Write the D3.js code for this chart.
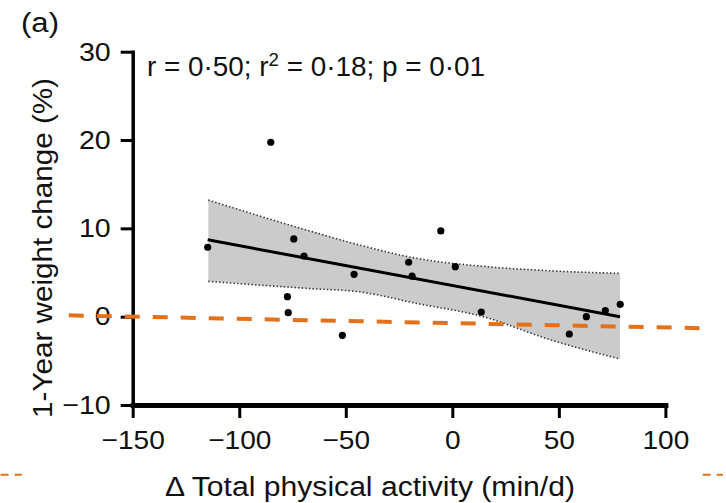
<!DOCTYPE html>
<html>
<head>
<meta charset="utf-8">
<script src="https://cdn.jsdelivr.net/npm/d3@7"></script>
<style>
  body { margin: 0; background: #fff; }
  text { font-family: "Liberation Sans", Arial, sans-serif; fill: #111; }
</style>
</head>
<body>
<svg id="chart" width="726" height="503"></svg>
<script>
// scatter points (delta activity min/d, weight change %)
var pointX = [-114.8, -85.2, -74.4, -69.6, -77.4, -77.0, -46.1, -51.6, -20.5, -18.9, -5.4, 1.4, 13.6, 54.9, 62.9, 71.8, 78.8];
var pointY = [7.86, 19.75, 8.8, 6.87, 2.26, 0.45, 4.80, -2.11, 6.16, 4.58, 9.71, 5.66, 0.53, -1.96, 0.0, 0.68, 1.40];

// regression line end points
var fitX = [-114.8, 78.7];
var fitY = [8.7, 0.0];

// 95% confidence band
var bandX = [-114.5, -68.3, -43.3, -16.7, 14.5, 45.8, 78.7];
var bandUpper = [13.2, 9.8, 8.1, 6.6, 5.7, 5.2, 4.9];
var bandLower = [4.0, 3.2, 2.8, 1.5, 0.0, -2.6, -4.8];

// orange dashed reference line
var refX = [-180, 116];
var refY = [0.15, -1.3];
// short orange dashes along the bottom edge (y in data units)
var edgeDashX = [[-212, -202], [117.5, 127]];
var edgeDashY = -17.9;

var xTicks = [-150, -100, -50, 0, 50, 100];
var yTicks = [-10, 0, 10, 20, 30];

var svg = d3.select("#chart");

var x = d3.scaleLinear().domain([-150, 100]).range([132.7, 665.4]);
var y = d3.scaleLinear().domain([-10, 30]).range([405, 51.7]);

//confidence band
var bandData = bandX.map(function (d, i) { return { x: d, lo: bandLower[i], hi: bandUpper[i] }; });
svg.append("path")
    .datum(bandData)
    .attr("d", d3.area().x(d => x(d.x)).y0(d => y(d.lo)).y1(d => y(d.hi)).curve(d3.curveMonotoneX))
    .attr("fill", "#cbcbcb");
["hi", "lo"].forEach(function (k) {
    svg.append("path")
        .datum(bandData)
        .attr("d", d3.line().x(d => x(d.x)).y(d => y(d[k])).curve(d3.curveMonotoneX))
        .attr("fill", "none")
        .attr("stroke", "#333")
        .attr("stroke-width", 1.6)
        .attr("stroke-dasharray", "1.4,2.2");
});

//regression line
svg.append("path")
    .datum(fitX.map((d, i) => [d, fitY[i]]))
    .attr("d", d3.line().x(d => x(d[0])).y(d => y(d[1])))
    .attr("stroke", "#000")
    .attr("stroke-width", 3);

//points
svg.selectAll(".pt")
    .data(pointX.map((d, i) => [d, pointY[i]]))
    .enter()
    .append("circle")
    .attr("class", "pt")
    .attr("cx", d => x(d[0]))
    .attr("cy", d => y(d[1]))
    .attr("r", 3.6)
    .attr("fill", "#000");

//axes
var yAxis = svg.append("g")
    .attr("transform", "translate(" + x(-150) + ",0)")
    .call(d3.axisLeft(y).tickValues(yTicks).tickSize(12).tickSizeOuter(0).tickPadding(10));
var xAxis = svg.append("g")
    .attr("transform", "translate(0," + y(-10) + ")")
    .call(d3.axisBottom(x).tickValues(xTicks).tickSize(13).tickSizeOuter(0).tickPadding(13));

[yAxis, xAxis].forEach(function (g) {
    g.select(".domain").attr("stroke", "#000").attr("stroke-linecap", "square");
    g.selectAll(".tick line").attr("stroke", "#000").attr("stroke-width", 3);
    g.selectAll(".tick text").attr("font-size", 26).attr("fill", "#111")
        .style("font-family", "'Liberation Sans', Arial, sans-serif");
});
yAxis.select(".domain").attr("stroke-width", 3.5);
xAxis.select(".domain").attr("stroke-width", 5);
// the original lettering is a little wider than Arial
xAxis.selectAll(".tick text").attr("transform", "scale(1.08,1)");
yAxis.selectAll(".tick text").attr("x", -22 / 1.1).attr("transform", "scale(1.1,1)");

//orange reference line
svg.append("line")
    .attr("x1", x(refX[0])).attr("y1", y(refY[0]))
    .attr("x2", x(refX[1])).attr("y2", y(refY[1]))
    .attr("stroke", "#e4711a")
    .attr("stroke-width", 4)
    .attr("stroke-dasharray", "15,13");

edgeDashX.forEach(function (seg) {
    svg.append("line")
        .attr("x1", x(seg[0])).attr("y1", y(edgeDashY))
        .attr("x2", x(seg[1])).attr("y2", y(edgeDashY))
        .attr("stroke", "#e4711a")
        .attr("stroke-width", 2)
        .attr("stroke-dasharray", "8,6");
});

//labels
svg.append("text").attr("x", 21).attr("y", 32).attr("font-size", 27)
    .attr("textLength", 38).attr("lengthAdjust", "spacingAndGlyphs").text("(a)");

var ann = svg.append("text").attr("x", 147).attr("y", 76).attr("font-size", 27)
    .attr("textLength", 338).attr("lengthAdjust", "spacingAndGlyphs");
ann.append("tspan").text("r = 0\u00b750; r");
ann.append("tspan").attr("font-size", 18).attr("dy", -10).text("2");
ann.append("tspan").attr("dy", 10).text(" = 0\u00b718; p = 0\u00b701");

svg.append("text")
    .attr("x", 370).attr("y", 496)
    .attr("text-anchor", "middle")
    .attr("font-size", 27)
    .attr("textLength", 410).attr("lengthAdjust", "spacingAndGlyphs")
    .text("\u0394 Total physical activity (min/d)");

svg.append("text")
    .attr("transform", "translate(52,248) rotate(-90)")
    .attr("text-anchor", "middle")
    .attr("font-size", 28)
    .attr("textLength", 340).attr("lengthAdjust", "spacingAndGlyphs")
    .text("1-Year weight change (%)");
</script>
</body>
</html>
